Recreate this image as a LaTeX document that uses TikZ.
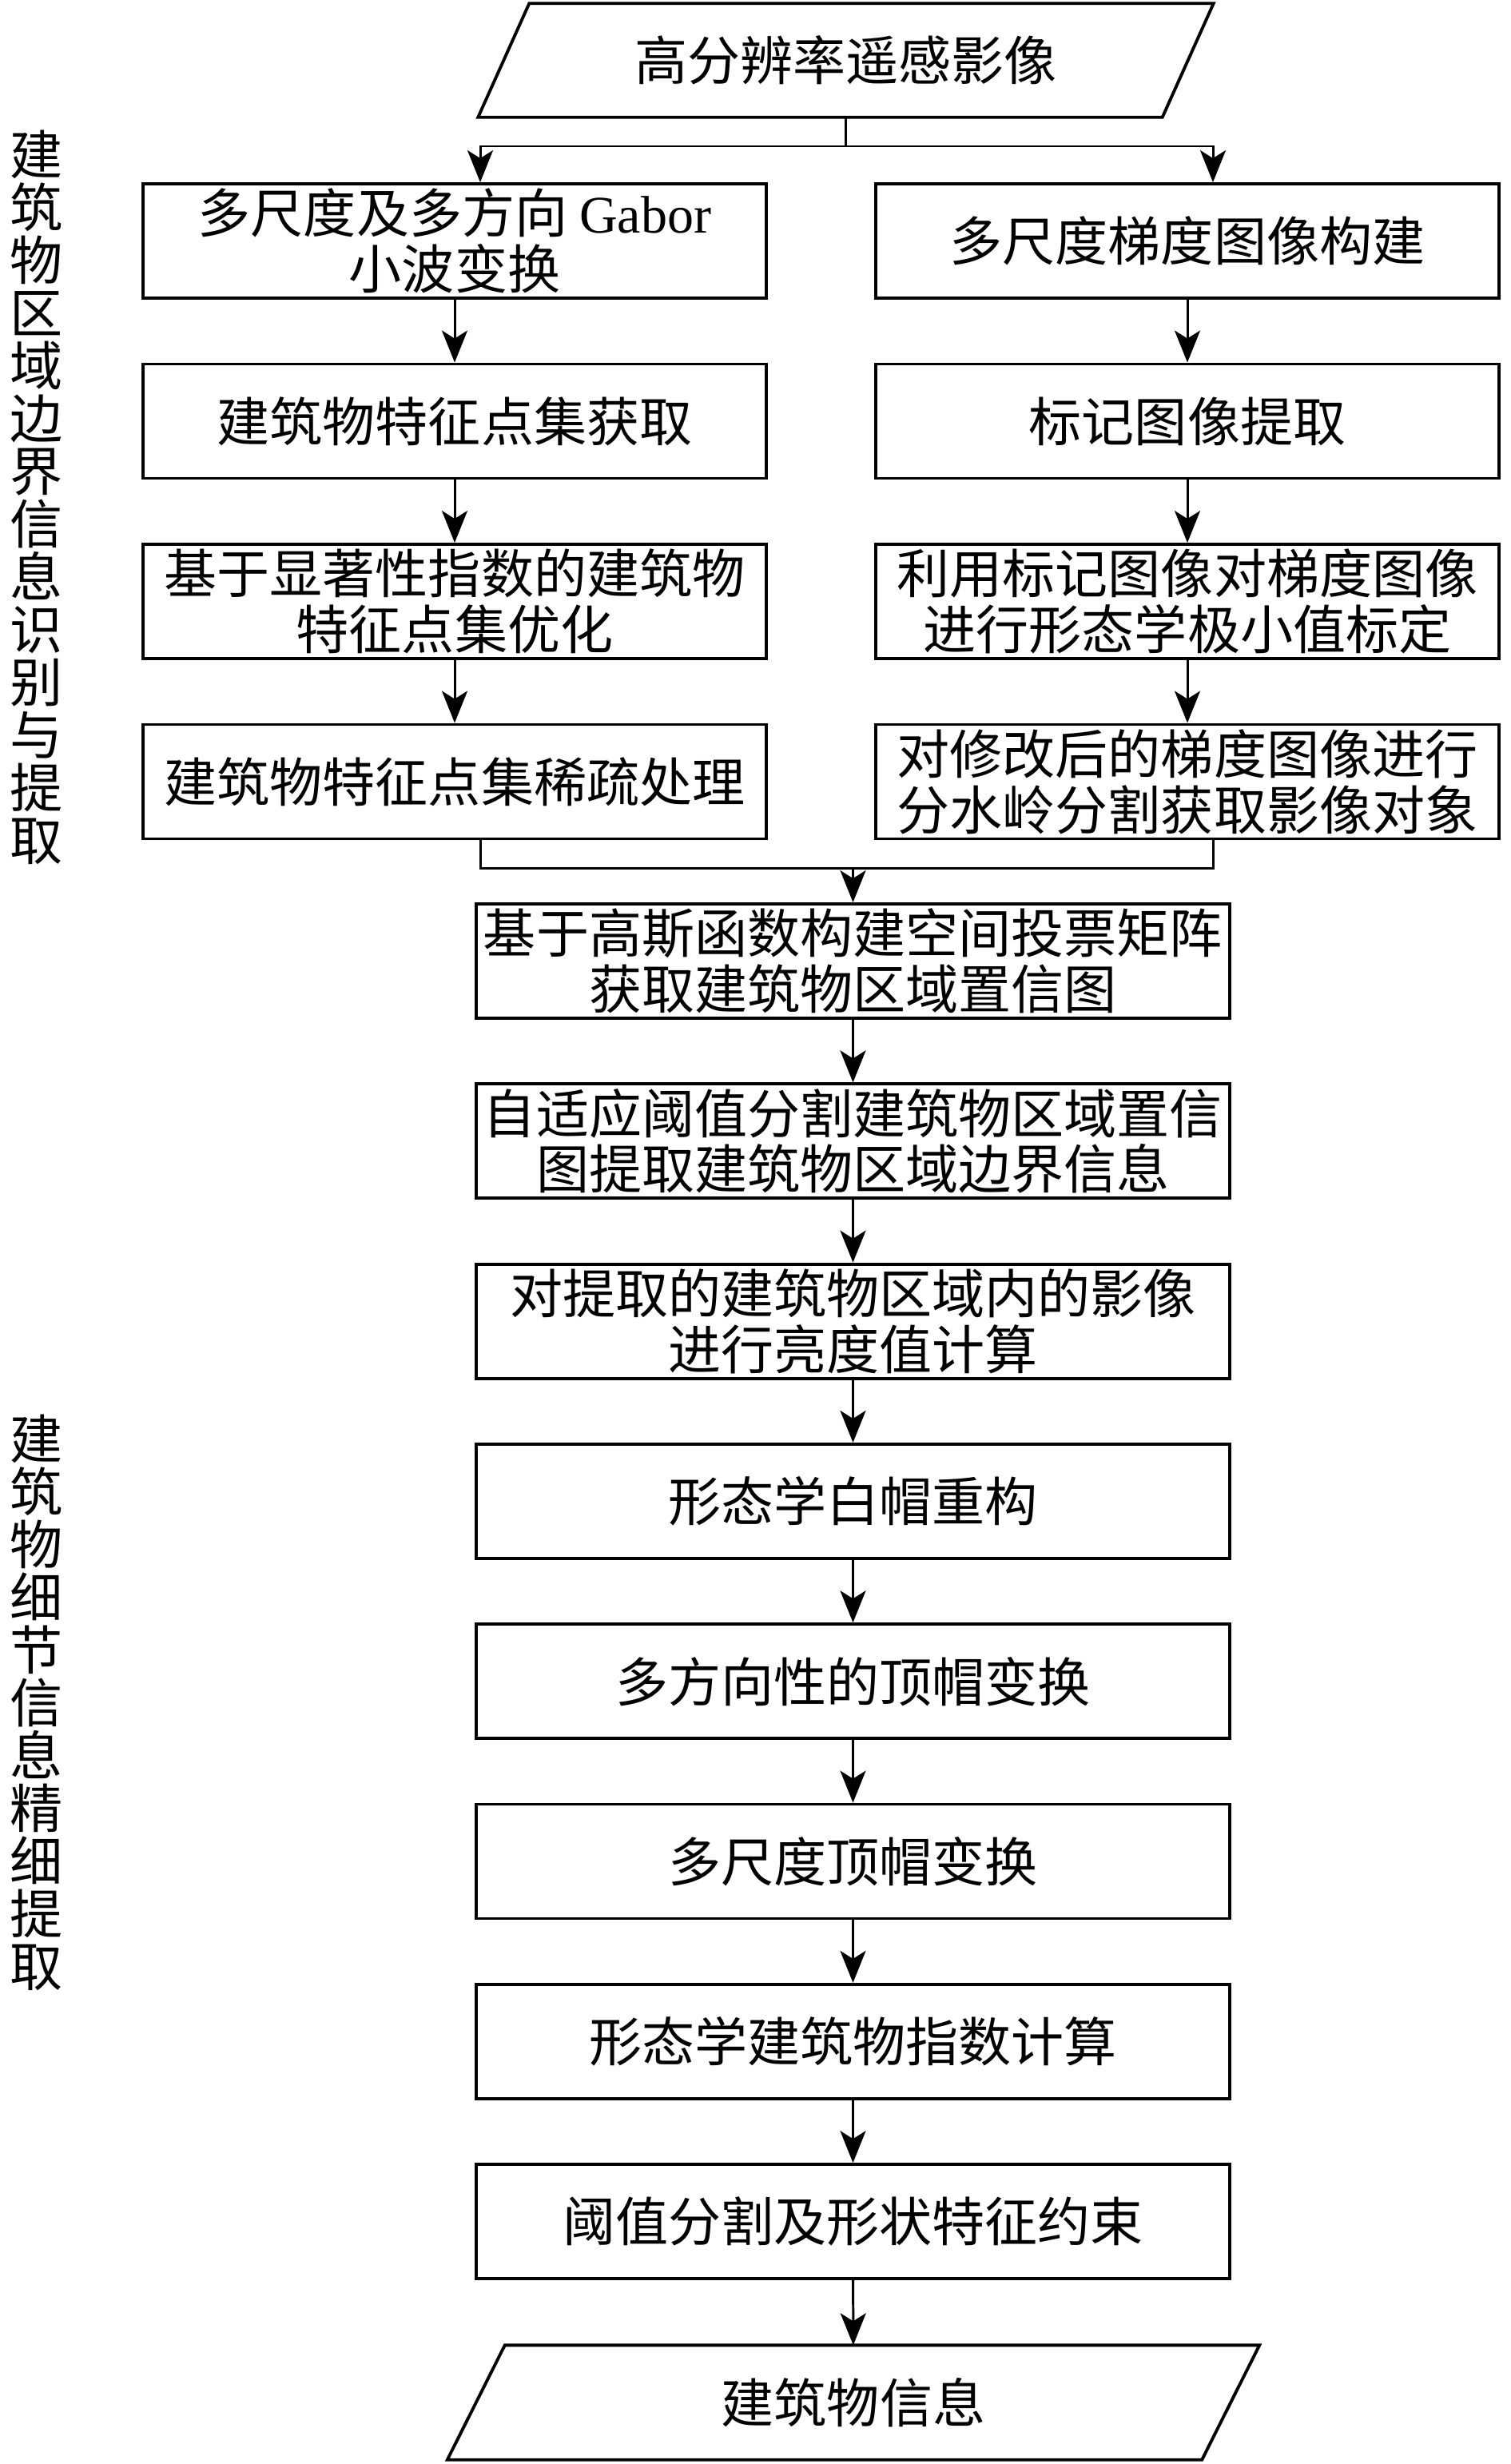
\documentclass[tikz,border=0pt]{standalone}
\usepackage{fontspec}
\setmainfont{Liberation Serif}
\newfontfamily\cjk{Noto Sans CJK SC}
\usepackage{tikz}
\usetikzlibrary{positioning, arrows.meta}
\tikzset{
    % box of the two upper columns
    sidebox/.style={
           rectangle,
           draw=black, line width=1.1pt,
           minimum width=7.8cm,
           minimum height=1.43cm,
           inner sep=0pt,
           align=center,
           font=\cjk\fontsize{18.8pt}{19.9pt}\selectfont},
 %
    mainbox/.style={
           sidebox,
           minimum width=9.43cm},
 %
    iobox/.style={
           rectangle,
           inner sep=0pt,
           align=center,
           font=\cjk\fontsize{18.8pt}{19.9pt}\selectfont},
 %
    sidelabel/.style={
           inner sep=0pt,
           align=center,
           font=\cjk\fontsize{18.8pt}{18.78pt}\selectfont},
    % Define arrow style
    arrow/.style={
           -{Stealth[length=0.4cm, width=0.32cm, inset=0.1cm]},
           line width=0.85pt},
    link/.style={line width=0.85pt}
}
\begin{document}
\begin{tikzpicture}
  \useasboundingbox (0,0) rectangle (18.9,-30.83);

  % input image
  \node[iobox, minimum width=8.55cm, minimum height=1.41cm] (img) at (10.585,-0.755) {高分辨率遥感影像};
  \draw[line width=1.1pt] ([xshift=0.32cm]img.north west) -- ([xshift=0.32cm]img.north east)
     -- ([xshift=-0.32cm]img.south east) -- ([xshift=-0.32cm]img.south west) -- cycle;

  % left column
  \node[sidebox] (g1) at (5.69,-3.015) {多尺度及多方向 {\rmfamily Gabor}\\小波变换};
  \node[sidebox] (g2) at (5.69,-5.27) {建筑物特征点集获取};
  \node[sidebox] (g3) at (5.69,-7.525) {基于显著性指数的建筑物\\特征点集优化};
  \node[sidebox] (g4) at (5.69,-9.78) {建筑物特征点集稀疏处理};

  % right column
  \node[sidebox] (m1) at (14.86,-3.015) {多尺度梯度图像构建};
  \node[sidebox] (m2) at (14.86,-5.27) {标记图像提取};
  \node[sidebox] (m3) at (14.86,-7.525) {利用标记图像对梯度图像\\进行形态学极小值标定};
  \node[sidebox] (m4) at (14.86,-9.78) {对修改后的梯度图像进行\\分水岭分割获取影像对象};

  % main column
  \node[mainbox] (b5) at (10.675,-12.025) {基于高斯函数构建空间投票矩阵\\获取建筑物区域置信图};
  \node[mainbox] (b6) at (10.675,-14.278) {自适应阈值分割建筑物区域置信\\图提取建筑物区域边界信息};
  \node[mainbox] (b7) at (10.675,-16.531) {对提取的建筑物区域内的影像\\进行亮度值计算};
  \node[mainbox] (b8) at (10.675,-18.784) {形态学白帽重构};
  \node[mainbox] (b9) at (10.675,-21.037) {多方向性的顶帽变换};
  \node[mainbox] (b10) at (10.675,-23.29) {多尺度顶帽变换};
  \node[mainbox] (b11) at (10.675,-25.543) {形态学建筑物指数计算};
  \node[mainbox] (b12) at (10.675,-27.796) {阈值分割及形状特征约束};

  % output
  \node[iobox, minimum width=9.43cm, minimum height=1.42cm] (out) at (10.68,-30.06) {建筑物信息};
  \draw[line width=1.1pt] ([xshift=0.36cm]out.north west) -- ([xshift=0.36cm]out.north east)
     -- ([xshift=-0.36cm]out.south east) -- ([xshift=-0.36cm]out.south west) -- cycle;

  % stage labels
  \node[sidelabel] (stage1) at (0.46,-6.22) {建\\筑\\物\\区\\域\\边\\界\\信\\息\\识\\别\\与\\提\\取};
  \node[sidelabel] (stage2) at (0.46,-21.30) {建\\筑\\物\\细\\节\\信\\息\\精\\细\\提\\取};

  % split and join
  \coordinate (split) at (10.585,-1.83);
  \coordinate (join) at (10.675,-10.86);
  \draw[link] (img.south) -- (split);
  \draw[arrow] (split) -| ([xshift=0.32cm]g1.north);
  \draw[arrow] (split) -| ([xshift=0.32cm]m1.north);
  \draw[link] ([xshift=0.32cm]g4.south) |- (join) -| ([xshift=0.32cm]m4.south);

  \path[arrow]
    (g1) edge (g2)
    (g2) edge (g3)
    (g3) edge (g4)
    (m1) edge (m2)
    (m2) edge (m3)
    (m3) edge (m4)
    (join) edge (b5)
    (b5) edge (b6)
    (b6) edge (b7)
    (b7) edge (b8)
    (b8) edge (b9)
    (b9) edge (b10)
    (b10) edge (b11)
    (b11) edge (b12)
    (b12) edge (out);
\end{tikzpicture}
\end{document}
